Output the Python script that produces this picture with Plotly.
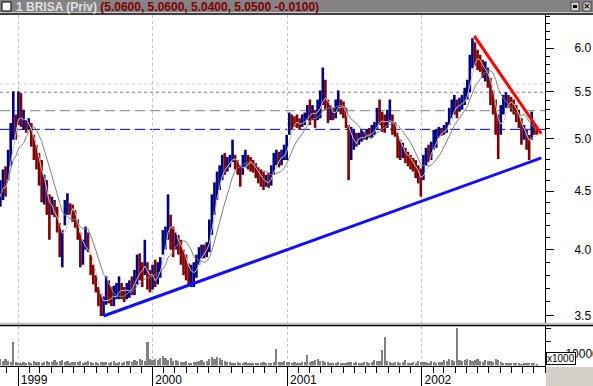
import math
import numpy as np
import pandas as pd
import plotly.graph_objects as go

# ---------------- data (weekly bars) ----------------
start_date = "1998-11-14"

high = [4.60, 4.70, 4.73, 4.89, 5.16, 5.50, 5.25, 5.50, 5.48, 5.30,
        5.19, 5.21, 5.16, 5.04, 4.94, 4.86, 4.79, 4.65, 4.60, 4.47,
        4.45, 4.42, 4.36, 4.22, 4.16, 4.42, 4.48, 4.39, 4.38, 4.33,
        4.25, 4.14, 4.08, 4.19, 4.14, 3.96, 3.88, 3.80, 3.71, 3.66,
        3.64, 3.79, 3.76, 3.71, 3.72, 3.74, 3.79, 3.74, 3.71, 3.74,
        3.76, 3.79, 3.84, 3.96, 3.97, 3.90, 4.08, 3.90, 3.84, 3.88,
        3.92, 3.90, 3.94, 4.16, 4.19, 4.47, 4.29, 4.19, 4.14, 4.12,
        4.08, 4.00, 3.96, 3.89, 3.88, 3.90, 3.96, 4.02, 4.04, 4.04,
        4.06, 4.25, 4.47, 4.58, 4.68, 4.74, 4.84, 4.86, 4.82, 4.84,
        4.99, 4.84, 4.79, 4.74, 4.84, 4.89, 4.84, 4.82, 4.79, 4.76,
        4.72, 4.70, 4.68, 4.65, 4.67, 4.74, 4.86, 4.89, 4.87, 4.89,
        4.94, 5.04, 5.27, 5.25, 5.23, 5.25, 5.21, 5.25, 5.27, 5.35,
        5.41, 5.35, 5.30, 5.41, 5.51, 5.77, 5.63, 5.41, 5.35, 5.32,
        5.41, 5.51, 5.41, 5.39, 5.32, 5.14, 5.12, 5.09, 5.06, 5.06,
        5.09, 5.07, 5.09, 5.11, 5.14, 5.17, 5.32, 5.41, 5.28, 5.25,
        5.30, 5.41, 5.25, 5.17, 5.06, 4.99, 4.96, 4.91, 4.87, 4.84,
        4.81, 4.79, 4.74, 4.71, 4.84, 4.91, 4.94, 4.97, 5.09, 5.09,
        5.12, 5.11, 5.14, 5.17, 5.32, 5.41, 5.46, 5.41, 5.43, 5.46,
        5.54, 5.63, 5.92, 6.12, 6.07, 5.98, 5.92, 5.86, 5.84, 5.77,
        5.65, 5.51, 5.41, 5.25, 5.35, 5.46, 5.49, 5.46, 5.44, 5.41,
        5.35, 5.30, 5.21, 5.14, 5.09, 5.04, 5.28, 5.14, 5.11]

low = [4.36, 4.42, 4.45, 4.60, 4.73, 4.99, 4.99, 5.14, 5.12, 5.09,
       5.06, 5.09, 4.92, 4.79, 4.70, 4.55, 4.40, 4.38, 4.29, 4.08,
       4.29, 4.27, 4.14, 3.94, 3.86, 4.20, 4.29, 4.29, 4.23, 4.18,
       4.08, 3.86, 3.88, 4.00, 3.98, 3.80, 3.73, 3.67, 3.57, 3.50,
       3.50, 3.58, 3.59, 3.57, 3.57, 3.62, 3.62, 3.62, 3.60, 3.62,
       3.63, 3.65, 3.65, 3.73, 3.76, 3.71, 3.80, 3.69, 3.67, 3.69,
       3.71, 3.73, 3.78, 3.96, 4.00, 4.08, 4.00, 3.94, 4.00, 3.96,
       3.88, 3.80, 3.76, 3.73, 3.71, 3.71, 3.78, 3.88, 3.93, 3.93,
       3.94, 3.98, 4.12, 4.29, 4.42, 4.51, 4.60, 4.65, 4.68, 4.72,
       4.77, 4.70, 4.65, 4.54, 4.65, 4.72, 4.70, 4.68, 4.67, 4.62,
       4.57, 4.54, 4.51, 4.54, 4.53, 4.55, 4.65, 4.74, 4.72, 4.74,
       4.79, 4.79, 5.04, 5.09, 5.12, 5.11, 5.09, 5.12, 5.14, 5.19,
       5.14, 5.19, 5.11, 5.19, 5.21, 5.35, 5.30, 5.16, 5.19, 5.19,
       5.21, 5.28, 5.25, 5.21, 5.11, 4.60, 4.79, 4.89, 4.92, 4.94,
       4.97, 4.99, 4.99, 5.01, 5.01, 5.04, 5.09, 5.14, 5.07, 5.06,
       5.11, 5.17, 5.04, 5.02, 4.81, 4.79, 4.81, 4.76, 4.73, 4.70,
       4.68, 4.62, 4.57, 4.45, 4.60, 4.74, 4.77, 4.79, 4.89, 4.91,
       5.01, 5.03, 5.04, 5.06, 5.14, 5.21, 5.25, 5.21, 5.28, 5.30,
       5.35, 5.41, 5.49, 5.76, 5.79, 5.74, 5.72, 5.65, 5.61, 5.54,
       5.35, 5.25, 5.04, 4.80, 5.04, 5.25, 5.32, 5.32, 5.28, 5.25,
       5.17, 5.11, 4.94, 4.99, 4.89, 4.79, 4.99, 5.04, 5.04]

close = [4.45, 4.60, 4.55, 4.80, 5.10, 5.25, 5.05, 5.40, 5.15, 5.18,
         5.12, 5.15, 4.95, 4.85, 4.80, 4.65, 4.50, 4.55, 4.35, 4.20,
         4.40, 4.30, 4.18, 4.00, 4.05, 4.35, 4.40, 4.33, 4.30, 4.22,
         4.10, 3.95, 4.00, 4.05, 4.00, 3.85, 3.78, 3.70, 3.60, 3.55,
         3.58, 3.70, 3.62, 3.60, 3.65, 3.68, 3.75, 3.66, 3.64, 3.70,
         3.72, 3.70, 3.80, 3.90, 3.85, 3.78, 3.95, 3.75, 3.72, 3.80,
         3.76, 3.85, 3.90, 4.10, 4.15, 4.40, 4.10, 4.05, 4.10, 4.05,
         3.95, 3.90, 3.85, 3.78, 3.80, 3.85, 3.90, 3.98, 4.00, 3.98,
         4.02, 4.20, 4.40, 4.50, 4.62, 4.65, 4.78, 4.72, 4.75, 4.80,
         4.90, 4.75, 4.70, 4.60, 4.80, 4.82, 4.75, 4.74, 4.70, 4.68,
         4.62, 4.58, 4.55, 4.60, 4.58, 4.70, 4.80, 4.82, 4.78, 4.85,
         4.85, 5.00, 5.20, 5.18, 5.16, 5.14, 5.12, 5.20, 5.22, 5.28,
         5.25, 5.30, 5.20, 5.35, 5.40, 5.60, 5.35, 5.20, 5.28, 5.25,
         5.35, 5.40, 5.30, 5.28, 5.15, 4.80, 5.00, 5.02, 4.98, 5.00,
         5.04, 5.02, 5.05, 5.04, 5.08, 5.12, 5.25, 5.20, 5.15, 5.12,
         5.22, 5.25, 5.10, 5.08, 4.88, 4.85, 4.90, 4.82, 4.78, 4.76,
         4.72, 4.66, 4.62, 4.50, 4.78, 4.85, 4.82, 4.92, 5.02, 5.04,
         5.08, 5.06, 5.10, 5.12, 5.28, 5.35, 5.38, 5.30, 5.36, 5.40,
         5.48, 5.55, 5.85, 5.95, 5.90, 5.80, 5.78, 5.70, 5.75, 5.60,
         5.45, 5.30, 5.10, 4.95, 5.25, 5.38, 5.42, 5.38, 5.35, 5.30,
         5.22, 5.15, 5.00, 5.06, 4.95, 4.92, 5.10, 5.08, 5.05]

volume = [5000, 4000, 5500, 3500, 3000, 19000, 2500, 2000, 2200, 2800,
          2400, 3000, 2200, 3500, 2600, 2900, 2100, 3200, 3800, 2500,
          3000, 4200, 2600, 3400, 4500, 2800, 3600, 2400, 3100, 2700,
          2500, 3300, 2200, 2900, 3800, 2600, 2100, 3000, 2400, 2800,
          3200, 2500, 2100, 2800, 3600, 2400, 3000, 2300, 2700, 3400,
          3800, 3000, 4600, 3500, 5200, 4200, 3800, 19500, 5500, 4400,
          5000, 4200, 6500, 7500, 5800, 4800, 6200, 3800, 4500, 3600,
          3000, 2600, 3400, 2400, 2200, 2800, 2500, 3600, 4200, 3000,
          3800, 5200, 6800, 5600, 7200, 6000, 4400, 3600, 2800, 2500,
          2400, 2100, 2800, 2300, 2000, 2600, 2200, 2000, 2400, 2100,
          2300, 2000, 2500, 2200, 2100, 2400, 2600, 13500, 2800, 2500,
          3600, 3000, 2800, 2400, 2600, 2200, 2000, 2500, 2700, 8600,
          3000, 3400, 4500, 5200, 4000, 3600, 2800, 2500, 2200, 2400,
          2200, 2600, 2000, 2400, 2100, 3000, 2500, 2300, 2600, 2000,
          2200, 2500, 2800, 2400, 3200, 4500, 3800, 3400, 12700, 23400,
          3600, 2800, 2400, 3000, 2500, 2200, 2600, 4500, 2400, 2100,
          2600, 2300, 3400, 2800, 3000, 2500, 2200, 3600, 2800, 2400,
          3200, 3000, 4200, 3600, 5000, 4400, 3800, 31000, 4600, 3500,
          4800, 5500, 4200, 3600, 4400, 5200, 3800, 3000, 4600, 3400,
          3800, 3000, 5400, 4200, 2500, 2200, 2000, 2400, 2100, 1900,
          2000, 1800, 1600, 1700, 2200, 2400, 2000, 1800, 1500]

# drawn lines (date, price)
support_dates = ["1999-08-21", "2002-11-21"]
support_prices = [3.50, 4.81]
resist_dates = ["2002-05-23", "2002-11-21"]
resist_prices = [6.15, 5.05]
hline_prices = [5.58, 5.49, 5.29, 5.095]
hline_colors = ["#c8c8c8", "#808080", "#808080", "#0000c0"]
hline_dash = ["3px,3px", "3px,3px", "10px,5px", "10px,5px"]

price_ticks = [3.5, 4.0, 4.5, 5.0, 5.5, 6.0]
vol_ticks = [10000, 20000, 30000]
vol_ticktext = ["10000", "", ""]
title_name = "1 BRISA (Priv)"
title_values = "(5.0600, 5.0600, 5.0400, 5.0500 -0.0100)"

x_range = ["1998-11-13", "2002-12-01"]
price_range = [3.451, 6.413]
vol_range = [0, 32400]

# ---------------- build ----------------
W, H = 593, 386
def px(v):
    return v / W
def py(v):
    return (H - v) / H

dates = pd.date_range(start_date, periods=len(close), freq="7D")
up = [True] + [close[i] >= close[i - 1] for i in range(1, len(close))]

def segs(flag):
    xs, ys = [], []
    for d, h, l, u in zip(dates, high, low, up):
        if u == flag:
            xs += [d, d, None]
            ys += [l, h, None]
    return xs, ys

cs = pd.Series(close)
ma_fast = cs.rolling(4, min_periods=1).mean()
ma_slow = cs.rolling(10, min_periods=1).mean()

fig = go.Figure()
xu, yu = segs(True)
xd, yd = segs(False)
fig.add_trace(go.Scatter(x=xd, y=yd, mode="lines", line=dict(color="#800000", width=2.6),
                         xaxis="x", yaxis="y", hoverinfo="skip"))
fig.add_trace(go.Scatter(x=xu, y=yu, mode="lines", line=dict(color="#000080", width=2.6),
                         xaxis="x", yaxis="y", hoverinfo="skip"))
fig.add_trace(go.Scatter(x=dates, y=ma_fast, mode="lines", line=dict(color="#c8c8c8", width=1),
                         xaxis="x", yaxis="y"))
fig.add_trace(go.Scatter(x=dates, y=ma_slow, mode="lines", line=dict(color="#808080", width=1),
                         xaxis="x", yaxis="y"))
fig.add_trace(go.Scatter(x=support_dates, y=support_prices, mode="lines",
                         line=dict(color="#1010ff", width=3), xaxis="x", yaxis="y"))
fig.add_trace(go.Scatter(x=resist_dates, y=resist_prices, mode="lines",
                         line=dict(color="#ff0000", width=3), xaxis="x", yaxis="y"))
fig.add_trace(go.Bar(x=dates, y=volume, marker=dict(color="#808080", line=dict(width=0)),
                     width=6 * 24 * 3600 * 1000, xaxis="x2", yaxis="y2"))

shapes = []
for p, c, d in zip(hline_prices, hline_colors, hline_dash):
    shapes.append(dict(type="line", xref="x domain", yref="y", x0=0, x1=1, y0=p, y1=p,
                       line=dict(color=c, width=1, dash=d), layer="below"))
# window chrome
shapes += [
    dict(type="rect", xref="paper", yref="paper", x0=0, x1=1, y0=py(13), y1=1,
         fillcolor="#848284", line=dict(width=0)),
    dict(type="line", xref="paper", yref="paper", x0=0, x1=1, y0=py(12.5), y1=py(12.5),
         line=dict(color="#c8c8c8", width=1)),
    dict(type="line", xref="paper", yref="paper", x0=0, x1=1, y0=py(14), y1=py(14),
         line=dict(color="#000000", width=1.5)),
    dict(type="rect", xref="paper", yref="paper", x0=px(2), x1=px(11), y0=py(11), y1=py(2),
         fillcolor="#ffffff", line=dict(color="#000000", width=1)),
    dict(type="rect", xref="paper", yref="paper", x0=px(571), x1=px(579), y0=py(11), y1=py(2),
         fillcolor="#d4d0c8", line=dict(color="#404040", width=1)),
    dict(type="rect", xref="paper", yref="paper", x0=px(573), x1=px(577), y0=py(8), y1=py(5),
         fillcolor="#000000", line=dict(width=0)),
    dict(type="rect", xref="paper", yref="paper", x0=px(583), x1=px(591), y0=py(11), y1=py(2),
         fillcolor="#d4d0c8", line=dict(color="#404040", width=1)),
    dict(type="line", xref="paper", yref="paper", x0=0, x1=1, y0=py(323.5), y1=py(323.5),
         line=dict(color="#c0c0c0", width=1.5)),
    dict(type="line", xref="paper", yref="paper", x0=0, x1=1, y0=py(325.5), y1=py(325.5),
         line=dict(color="#000000", width=1.5)),
    dict(type="rect", xref="paper", yref="paper", x0=px(546), x1=1, y0=0, y1=py(367),
         fillcolor="#d4d0c8", line=dict(width=0)),
]

annotations = [
    dict(xref="paper", yref="paper", x=px(14), y=py(7), xanchor="left", yanchor="middle",
         showarrow=False,
         text=f"<b><span style='color:#e0e0e0'>{title_name}</span> "
              f"<span style='color:#800000'>{title_values}</span></b>",
         font=dict(family="Liberation Sans", size=12)),
    dict(xref="paper", yref="paper", x=px(587), y=py(6.5), xanchor="center", yanchor="middle",
         showarrow=False, text="<b>×</b>", font=dict(family="DejaVu Sans", size=9, color="#000")),
    dict(xref="paper", yref="paper", x=px(546), y=py(365), xanchor="left", yanchor="bottom",
         showarrow=False, text="x1000", bgcolor="#ffffff", bordercolor="#000000",
         borderwidth=1, borderpad=0, font=dict(family="Liberation Sans", size=10, color="#000")),
]

minor_vals = [round(3.5 + 0.1 * i, 1) for i in range(0, 30)]
xdom = [0, px(545)]
grid_kw = dict(showgrid=True, gridcolor="#c0c0c0", griddash="3px,3px", gridwidth=1,
               dtick="M12", tick0="1999-01-01", automargin=False)

fig.update_layout(
    template="none",
    width=W, height=H, margin=dict(l=0, r=0, t=0, b=0, pad=0, autoexpand=False),
    paper_bgcolor="#ffffff", plot_bgcolor="#ffffff", showlegend=False, bargap=0,
    font=dict(family="Liberation Sans", size=11, color="#000000"),
    shapes=shapes, annotations=annotations,
    xaxis=dict(domain=xdom, anchor="y", type="date", range=x_range, showticklabels=False,
               ticks="", showline=False, zeroline=False, **grid_kw),
    yaxis=dict(domain=[py(323), py(15)], anchor="x", type="log", automargin=False,
               range=[math.log10(price_range[0]), math.log10(price_range[1])],
               side="right", tickvals=price_ticks, ticktext=[f"{v:.1f}" for v in price_ticks],
               ticks="outside", ticklen=8, tickcolor="#000", showline=True, linecolor="#000",
               linewidth=1, showgrid=False, zeroline=False, ticklabelstandoff=18,
               tickfont=dict(size=12),
               minor=dict(tickvals=minor_vals, ticks="outside", ticklen=4, tickcolor="#000",
                          showgrid=False)),
    xaxis2=dict(domain=xdom, anchor="y2", type="date", range=x_range, showline=True,
                linecolor="#000", linewidth=1, zeroline=False, ticks="outside", ticklen=20,
                tickcolor="#000", tickformat="%Y", ticklabelshift=16, ticklabelstandoff=-17,
                tickfont=dict(size=12),
                minor=dict(dtick="M1", tick0="1999-01-01", ticks="outside", ticklen=6,
                           tickcolor="#000", showgrid=False),
                **grid_kw),
    yaxis2=dict(domain=[py(365.5), py(326)], anchor="x2", range=vol_range, side="right",
                automargin=False,
                tickvals=vol_ticks, ticktext=vol_ticktext, ticks="outside", ticklen=5,
                tickcolor="#000", showline=True, linecolor="#000", linewidth=1,
                showgrid=False, zeroline=False, ticklabelstandoff=12, tickfont=dict(size=12)),
)

fig.write_html("out.html", config={"displayModeBar": False},
               post_script="document.body.style.margin='0';document.body.style.overflow='hidden';")
